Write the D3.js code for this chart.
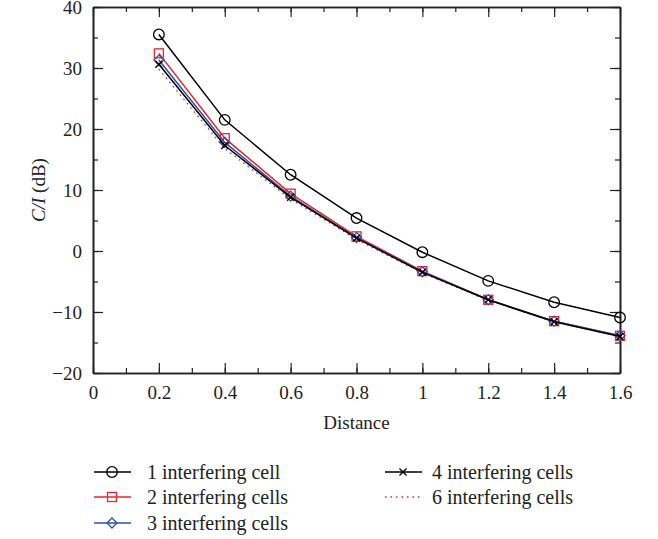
<!DOCTYPE html>
<html>
<head>
<meta charset="utf-8">
<script src="https://cdn.jsdelivr.net/npm/d3@7/dist/d3.min.js"></script>
<style>
  html, body { margin: 0; padding: 0; background: #fff; }
  svg { display: block; font-family: "Liberation Serif", "DejaVu Serif", serif; }
</style>
</head>
<body>
<svg id="chart" width="658" height="539"></svg>
<script>
// Distance values along the x axis
const distance = [0.2, 0.4, 0.6, 0.8, 1.0, 1.2, 1.4, 1.6];

// C/I (dB) for each number of interfering cells
const cell1 = [35.5, 21.5, 12.5, 5.4, -0.2, -4.9, -8.4, -10.9];
const cell2 = [32.4, 18.5, 9.4, 2.4, -3.3, -8.0, -11.5, -13.9];
const cell3 = [31.3, 17.8, 9.0, 2.2, -3.4, -8.0, -11.5, -13.9];
const cell4 = [30.6, 17.3, 8.8, 2.1, -3.5, -8.0, -11.6, -14.0];
const cell6 = [29.8, 16.8, 8.5, 1.9, -3.6, -8.1, -11.6, -14.0];

const xTicks = [0, 0.2, 0.4, 0.6, 0.8, 1, 1.2, 1.4, 1.6];
const yTicks = [-20, -10, 0, 10, 20, 30, 40];

const seriesNames = ["1 interfering cell", "2 interfering cells", "3 interfering cells",
                     "4 interfering cells", "6 interfering cells"];

const series = [
  { name: seriesNames[0], values: cell1, color: "#000000", marker: "circle", dash: null, width: 1.5 },
  { name: seriesNames[1], values: cell2, color: "#e8242c", marker: "square", dash: null, width: 1.5 },
  { name: seriesNames[2], values: cell3, color: "#2e4fa6", marker: "diamond", dash: null, width: 1.5 },
  { name: seriesNames[3], values: cell4, color: "#000000", marker: "cross", dash: null, width: 1.5 },
  { name: seriesNames[4], values: cell6, color: "#e8242c", marker: null, dash: "1.5,4", width: 1.3 }
];

const svg = d3.select("#chart");
const L = 93, R = 620, T = 7, B = 373;

const x = d3.scaleLinear().domain([0, 1.6]).range([L, R]);
const y = d3.scaleLinear().domain([-20, 40]).range([B, T]);

const tickFont = 19;
const legendFont = 20;
const minorX = d3.range(0, 1.6001, 0.1);
const minorY = d3.range(-20, 40.001, 5);

// Bottom axis
const gx = svg.append("g").attr("transform", `translate(0,${B})`)
  .call(d3.axisBottom(x).tickValues(xTicks).tickFormat(d3.format("~g")).tickSizeInner(-10).tickSizeOuter(0).tickPadding(13));
// Left axis
const gy = svg.append("g").attr("transform", `translate(${L},0)`)
  .call(d3.axisLeft(y).tickValues(yTicks).tickFormat(d => d < 0 ? "\u2212" + Math.abs(d) : d).tickSizeInner(-10).tickSizeOuter(0).tickPadding(11));
// Top and right axes (ticks only)
svg.append("g").attr("transform", `translate(0,${T})`)
  .call(d3.axisTop(x).tickValues(xTicks).tickFormat("").tickSizeInner(-10).tickSizeOuter(0));
svg.append("g").attr("transform", `translate(${R},0)`)
  .call(d3.axisRight(y).tickValues(yTicks).tickFormat("").tickSizeInner(-10).tickSizeOuter(0));

// Minor ticks
svg.append("g").attr("transform", `translate(0,${B})`)
  .call(d3.axisBottom(x).tickValues(minorX).tickFormat("").tickSizeInner(-5).tickSizeOuter(0));
svg.append("g").attr("transform", `translate(0,${T})`)
  .call(d3.axisTop(x).tickValues(minorX).tickFormat("").tickSizeInner(-5).tickSizeOuter(0));
svg.append("g").attr("transform", `translate(${L},0)`)
  .call(d3.axisLeft(y).tickValues(minorY).tickFormat("").tickSizeInner(-5).tickSizeOuter(0));
svg.append("g").attr("transform", `translate(${R},0)`)
  .call(d3.axisRight(y).tickValues(minorY).tickFormat("").tickSizeInner(-5).tickSizeOuter(0));

svg.selectAll(".domain").attr("stroke", "#222").attr("stroke-width", 1.6);
svg.selectAll(".tick line").attr("stroke", "#222").attr("stroke-width", 1.2);
svg.selectAll(".tick text").attr("font-size", tickFont)
  .attr("font-family", "Liberation Serif, DejaVu Serif, serif").attr("fill", "#222");
gy.selectAll(".tick text").attr("dy", "0.35em");

// Axis titles
svg.append("text")
  .attr("x", (L + R) / 2).attr("y", 429)
  .attr("text-anchor", "middle").attr("font-size", tickFont).attr("fill", "#222")
  .text("Distance");

const yl = svg.append("text")
  .attr("transform", `translate(45,${(T + B) / 2}) rotate(-90)`)
  .attr("text-anchor", "middle").attr("font-size", tickFont).attr("fill", "#222");
yl.append("tspan").attr("font-style", "italic").text("C/I");
yl.append("tspan").text(" (dB)");

// Marker drawing
function drawMarker(g, type, color, cx, cy) {
  if (type === "circle") {
    g.append("circle").attr("cx", cx).attr("cy", cy).attr("r", 5.3)
      .attr("fill", "none").attr("stroke", color).attr("stroke-width", 1.3);
  } else if (type === "square") {
    g.append("rect").attr("x", cx - 4.5).attr("y", cy - 4.5).attr("width", 9).attr("height", 9)
      .attr("fill", "none").attr("stroke", color).attr("stroke-width", 1.3);
  } else if (type === "diamond") {
    g.append("path").attr("d", `M${cx},${cy - 5}L${cx + 5},${cy}L${cx},${cy + 5}L${cx - 5},${cy}Z`)
      .attr("fill", "none").attr("stroke", color).attr("stroke-width", 1.3);
  } else if (type === "cross") {
    g.append("path").attr("d", `M${cx - 3.5},${cy - 3.5}L${cx + 3.5},${cy + 3.5}M${cx - 3.5},${cy + 3.5}L${cx + 3.5},${cy - 3.5}`)
      .attr("fill", "none").attr("stroke", color).attr("stroke-width", 1.4);
  }
}

const line = d3.line().x((d, i) => x(distance[i])).y(d => y(d));

// Series lines and markers (the dotted series sits beneath the rest)
const order = [4, 0, 1, 2, 3];
order.forEach(k => {
  const s = series[k];
  const g = svg.append("g");
  g.append("path").datum(s.values)
    .attr("d", line).attr("fill", "none")
    .attr("stroke", s.color).attr("stroke-width", s.width)
    .attr("stroke-dasharray", s.dash);
  if (s.marker) {
    s.values.forEach((v, i) => drawMarker(g, s.marker, s.color, x(distance[i]), y(v)));
  }
});

// Legend
const legendPos = [
  { lx: 94, ty: 472 }, { lx: 94, ty: 497 }, { lx: 94, ty: 523 },
  { lx: 385, ty: 472 }, { lx: 385, ty: 497 }
];
series.forEach((s, k) => {
  const p = legendPos[k];
  const g = svg.append("g");
  g.append("line").attr("x1", p.lx).attr("x2", p.lx + 37).attr("y1", p.ty).attr("y2", p.ty)
    .attr("stroke", s.color).attr("stroke-width", s.width).attr("stroke-dasharray", s.dash);
  if (s.marker) drawMarker(g, s.marker, s.color, p.lx + 18, p.ty);
  g.append("text").attr("x", p.lx + (k < 3 ? 53 : 47)).attr("y", p.ty).attr("dy", "0.33em")
    .attr("font-size", legendFont).attr("fill", "#222").text(s.name);
});
</script>
</body>
</html>
